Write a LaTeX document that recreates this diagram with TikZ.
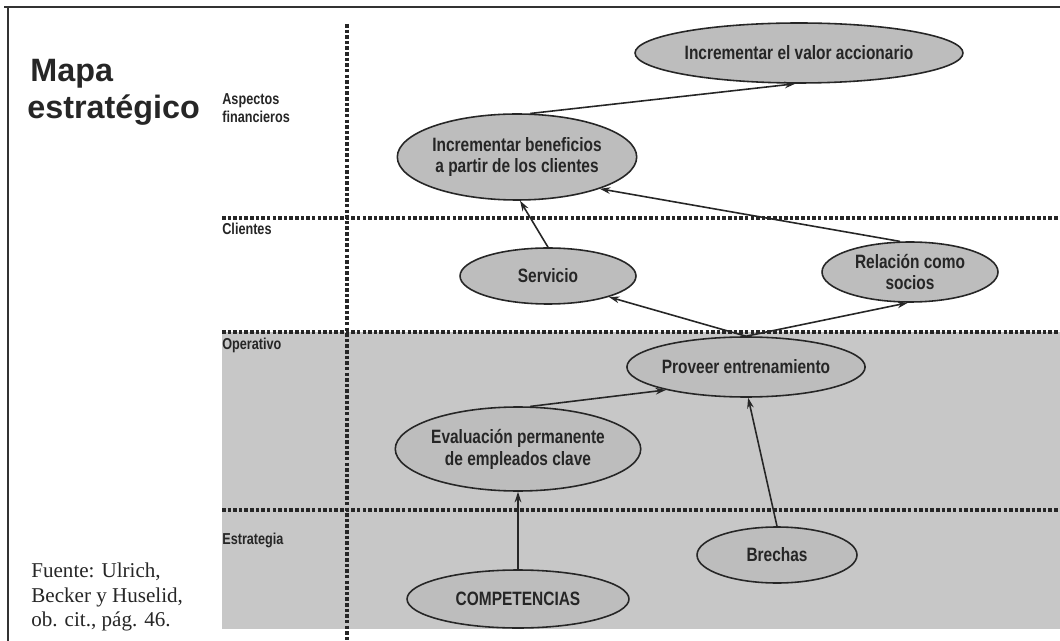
\documentclass[tikz,border=0pt]{standalone}
\usepackage{fontspec}
\setmainfont{Liberation Serif}
\newfontfamily\condb{Liberation Sans Bold}[FakeStretch=0.8]
\newfontfamily\titlefont{Liberation Sans Bold}
\usetikzlibrary{arrows.meta,shapes.geometric}
\definecolor{bggray}{gray}{0.78}
\definecolor{ellgray}{gray}{0.74}
\definecolor{ink}{gray}{0.15}
\tikzset{
  oval/.style={ellipse, draw=ink, line width=0.9pt, fill=ellgray, inner sep=0pt,
    align=center, text=ink, font=\condb\fontsize{11}{12.5}\selectfont},
  lbl/.style={anchor=west, inner sep=0pt, align=left, text=ink,
    font=\condb\fontsize{9}{10.5}\selectfont},
  sep/.style={line width=1.8pt, ink, dash pattern=on 2pt off 1.2pt},
  arr/.style={line width=0.9pt, ink, -{Stealth[length=6pt,width=3.8pt]}},
  frame/.style={line width=1pt, black!80}
}
\begin{document}
\begin{tikzpicture}[x=0.02cm,y=-0.02cm]
\useasboundingbox (0,0) rectangle (1060,641);
\fill[white] (0,0) rectangle (1060,641);
% page frame
\draw[frame] (4,7) -- (1060,7);
\draw[frame] (8,7) -- (8,641);
% gray band
\fill[bggray] (222,332) rectangle (1060,629);
% separators
\draw[sep] (347,24) -- (347,641);
\draw[sep] (222,218) -- (1060,218);
\draw[sep] (222,332) -- (1060,332);
\draw[sep] (222,510) -- (1060,510);
% title and labels
\node[anchor=base west, inner sep=0pt, font=\titlefont\fontsize{18.4}{21}\selectfont, text=ink] (t1) at (30,82) {Mapa};
\node[anchor=base west, inner sep=0pt, font=\titlefont\fontsize{18.4}{21}\selectfont, text=ink] (t2) at (27,119) {estratégico};
\node[lbl] (lfin) at (222,108) {Aspectos\\financieros};
\node[lbl] (lcli) at (222,229) {Clientes};
\node[lbl] (lope) at (222,345) {Operativo};
\node[lbl] (lest) at (222,540) {Estrategia};
\node[anchor=west, inner sep=0pt, align=left, text=ink, font=\fontsize{12}{14.2}\selectfont] (src) at (31,597)
  {Fuente: Ulrich,\\Becker y Huselid,\\ob. cit., pág. 46.};
% ellipses
\node[oval, minimum width=6.56cm, minimum height=1.2cm] (val) at (799,53) {Incrementar el valor accionario};
\node[oval, minimum width=4.4cm, minimum height=1.72cm] (ben) at (517,157) {Incrementar beneficios\\a partir de los clientes};
\node[oval, minimum width=3.52cm, minimum height=1.12cm] (serv) at (548,276) {Servicio};
\node[oval, minimum width=3.52cm, minimum height=1.2cm] (rel) at (910,272) {Relación como\\socios};
\node[oval, minimum width=4.48cm, minimum height=1.2cm] (prov) at (746,367) {Proveer entrenamiento};
\node[oval, minimum width=4.44cm, minimum height=1.68cm] (eval) at (518,449) {Evaluación permanente\\de empleados clave};
\node[oval, minimum width=3.2cm, minimum height=1.12cm] (bre) at (777,555) {Brechas};
\node[oval, minimum width=4.44cm, minimum height=1.16cm] (comp) at (518,599) {COMPETENCIAS};
% arrows
\draw[arr] (ben.73) -- (val.-97);
\draw[arr] (serv.north) -- (ben.-86);
\draw[arr] (rel.108) -- (ben.-21);
\draw[arr] (prov.north) -- (serv.-19);
\draw[arr] (prov.north) -- (rel.-94);
\draw[arr] (eval.74) -- (prov.196);
\draw[arr] (bre.north) -- (prov.-86);
\draw[arr] (comp.north) -- (eval.south);
\end{tikzpicture}
\end{document}
